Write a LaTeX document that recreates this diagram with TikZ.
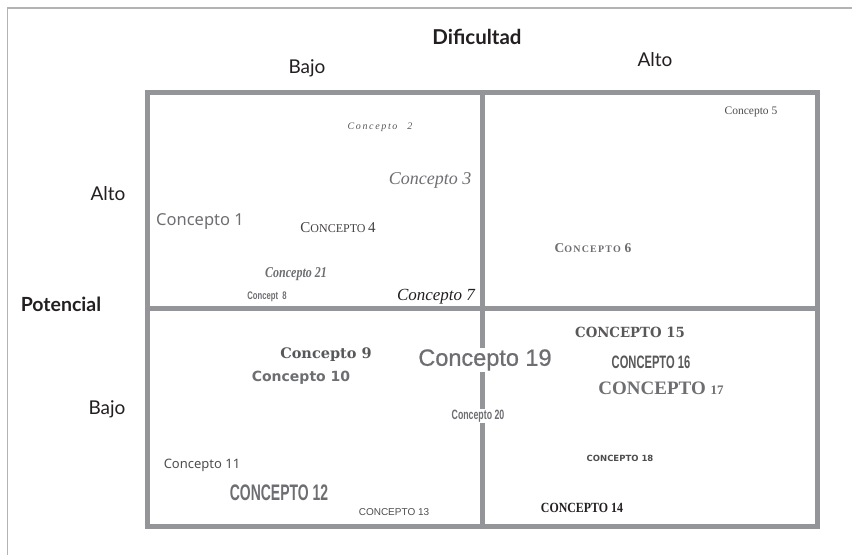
\documentclass[tikz,border=0pt]{standalone}
\usepackage{fontspec}
\newfontfamily\lato{Lato}
\newfontfamily\lsans{Liberation Sans}
\newfontfamily\lsansfb[FakeBold=0.8]{Liberation Sans}
\newfontfamily\lserif{Liberation Serif}
\newfontfamily\lsersp[LetterSpace=12]{Liberation Serif}
\newfontfamily\noto{Noto Sans}
\newfontfamily\djv{DejaVu Sans}
\newfontfamily\djs{DejaVu Serif}
\definecolor{framegray}{HTML}{B3B3B3}
\definecolor{boxgray}{HTML}{939598}
\definecolor{txtgray}{HTML}{6D6E71}
\definecolor{lblblack}{HTML}{231F20}
\newcommand{\fs}[1]{\fontsize{#1}{#1}\selectfont}
\tikzset{
  lbl/.style={inner sep=0pt, text=lblblack, font=\lato},
  cpt/.style={inner sep=0pt, text=txtgray},
  grid/.style={draw=boxgray, line width=5pt},
  fr/.style={draw=framegray, line width=1.5pt}
}
\begin{document}
\begin{tikzpicture}[x=1pt,y=-1pt]
\useasboundingbox (0,0) rectangle (852,555);
% outer thin frame
\coordinate (ftr) at (852,8);
\coordinate (ftl) at (7.5,8);
\coordinate (fbl) at (7.5,555);
\draw[fr] (ftr) -- (ftl) -- (fbl);
% matrix box
\coordinate (tl) at (147,92);
\coordinate (br) at (817,526);
\coordinate (vt) at (482,92);
\coordinate (vb) at (482,526);
\coordinate (hl) at (147,308);
\coordinate (hr) at (817,308);
\draw[grid] (tl) rectangle (br);
\draw[grid] (vt) -- (vb);
\draw[grid] (hl) -- (hr);
% axis labels
\node[lbl, font=\lato\bfseries\fs{20.5}] (dif) at (477,37) {Dificultad};
\node[lbl, font=\lato\fs{19}] (bajo1) at (307,68) {Bajo};
\node[lbl, font=\lato\fs{19}] (alto1) at (655,60) {Alto};
\node[lbl, font=\lato\fs{19}] (alto2) at (108,194) {Alto};
\node[lbl, font=\lato\bfseries\fs{19.5}] (pot) at (61,304) {Potencial};
\node[lbl, font=\lato\fs{19}] (bajo2) at (107,409) {Bajo};
% concepts
\node[cpt, text=txtgray!80!black, font=\lserif\itshape\fs{10}] (c2) at (380,127) {C\,o\,n\,c\,e\,p\,t\,o\quad 2};
\node[cpt, font=\lserif\itshape\fs{18}] (c3) at (430,180) {Concepto 3};
\node[cpt, font=\noto\fs{16.5}] (c1) at (200,222) {Concepto 1};
\node[cpt, text=lblblack!85, font=\lserif] (c4) at (338,228) {{\fs{15}C}{\fs{12}ONCEPTO} {\fs{15}4}};
\node[cpt, font=\lserif\bfseries\itshape\fs{15}] (c21) at (296,274) {\scalebox{0.8}[1]{Concepto 21}};
\node[cpt, font=\lsans\bfseries\fs{11}] (c8) at (267,297) {\scalebox{0.7}[1]{Concept\ \ 8}};
\node[cpt, text=lblblack, font=\lserif\itshape\fs{17}] (c7) at (436,297) {Concepto 7};
\node[cpt, text=lblblack!80, font=\lserif\fs{11.5}] (c5) at (751,112) {Concepto 5};
\node[cpt, font=\lsersp\bfseries] (c6) at (593,248) {{\fs{13.5}C}{\fs{10}ONCEPTO} {\fs{13.5}6}};
\node[cpt, text=txtgray!80!black, font=\djs\bfseries\fs{14.5}] (c9) at (326,355) {Concepto 9};
\node[cpt, font=\djv\bfseries\fs{14}] (c10) at (301,378) {Concepto 10};
\node[cpt, fill=white, inner sep=1.5pt, font=\lsansfb\fs{23.5}] (c19) at (485,360) {Concepto 19};
\node[cpt, fill=white, inner sep=1pt, font=\lsans\bfseries\fs{13.5}] (c20) at (478,416) {\scalebox{0.65}[1]{Concepto 20}};
\node[cpt, text=lblblack!80, font=\noto\fs{13}] (c11) at (202,465) {Concepto 11};
\node[cpt, font=\lsans\bfseries\fs{22.5}] (c12) at (279,493) {\scalebox{0.62}[1]{CONCEPTO 12}};
\node[cpt, text=lblblack!80, font=\lsans\fs{10}] (c13) at (394,512) {CONCEPTO 13};
\node[cpt, text=lblblack!75, font=\djs\bfseries\fs{14}] (c15) at (630,332) {\scalebox{0.95}[1]{CONCEPTO 15}};
\node[cpt, text=lblblack!75, font=\lsans\bfseries\fs{18}] (c16) at (651,362) {\scalebox{0.62}[1]{CONCEPTO 16}};
\node[cpt, font=\lserif\bfseries\fs{19}] (c17) at (661,388) {CONCEPTO {\fs{13}17}};
\node[cpt, text=lblblack!80, font=\djv\bfseries\fs{8.5}] (c18) at (620,458) {CONCEPTO 18};
\node[cpt, text=lblblack, font=\lserif\bfseries\fs{14}] (c14) at (582,508) {\scalebox{0.85}[1]{CONCEPTO 14}};
\end{tikzpicture}
\end{document}
